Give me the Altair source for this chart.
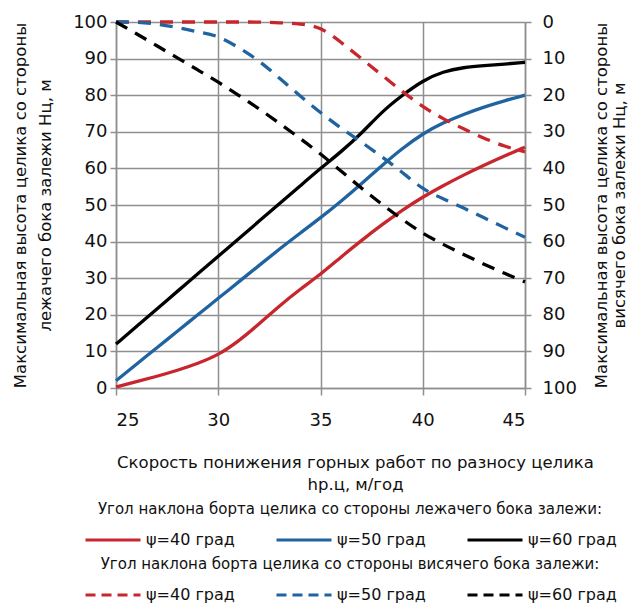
import altair as alt
import pandas as pd

# ---- data ----
x_vals = list(range(25, 46))

# Hц from the footwall (lying) side, left axis (m)
lying_40 = [0.3, 1.7, 3.2, 4.8, 6.7, 9.0, 12.8, 17.5, 22.5, 27.0, 31.0,
            35.8, 40.3, 44.6, 48.6, 52.2, 55.3, 58.2, 60.9, 63.4, 65.8]
lying_50 = [2.0, 6.5, 11.0, 15.5, 20.0, 24.5, 29.0, 33.5, 38.0, 42.3, 46.5,
            51.0, 55.8, 60.8, 65.5, 69.5, 72.5, 74.8, 76.8, 78.5, 80.0]
lying_60 = [12.0, 16.8, 21.6, 26.4, 31.2, 36.0, 40.8, 45.6, 50.4, 55.2, 60.0,
            64.5, 69.5, 75.5, 80.0, 84.0, 86.5, 87.6, 88.1, 88.5, 89.0]

# Hц from the hanging side, right (reversed) axis (m)
hanging_40 = [0.0, 0.0, 0.0, 0.0, 0.0, 0.0, 0.0, 0.0, 0.2, 0.5, 1.3,
              5.5, 10.0, 14.5, 19.0, 23.2, 26.5, 29.2, 31.8, 34.0, 35.5]
hanging_50 = [0.0, 0.0, 0.5, 1.5, 2.7, 3.7, 7.0, 10.5, 15.4, 20.2, 24.8,
              29.0, 32.8, 36.8, 41.0, 45.8, 48.3, 50.8, 53.5, 56.2, 58.8]
hanging_60 = [0.0, 3.2, 6.5, 9.8, 13.1, 16.4, 20.0, 23.7, 27.7, 31.8, 36.0,
              40.7, 45.4, 49.8, 54.0, 57.8, 60.8, 63.5, 66.2, 68.7, 71.0]

psi_labels = ["ψ=40 град", "ψ=50 град", "ψ=60 град"]
colors = ["#c8262d", "#1f63a0", "#000000"]

x_ticks = [25, 30, 35, 40, 45]
y_ticks = list(range(0, 101, 10))

x_title = ["Скорость понижения горных работ по разносу целика", "hр.ц, м/год"]
left_title = ["Максимальная высота целика со стороны", "лежачего бока залежи Hц, м"]
right_title = ["Максимальная высота целика со стороны", "висячего бока залежи Hц, м"]
legend1_title = "Угол наклона борта целика со стороны лежачего бока залежи:"
legend2_title = "Угол наклона борта целика со стороны висячего бока залежи:"

rows_s, rows_d = [], []
for lab, ys in zip(psi_labels, [lying_40, lying_50, lying_60]):
    for xv, yv in zip(x_vals, ys):
        rows_s.append({"x": xv, "H": yv, "psi": lab})
for lab, ys in zip(psi_labels, [hanging_40, hanging_50, hanging_60]):
    for xv, yv in zip(x_vals, ys):
        rows_d.append({"x": xv, "H": yv, "psi": lab})
solid_df = pd.DataFrame(rows_s)
dashed_df = pd.DataFrame(rows_d)

FONT = "DejaVu Sans"
GRID = "#8f8f8f"

x_enc = alt.X("x:Q", scale=alt.Scale(domain=[25, 45], nice=False, zero=False),
              axis=alt.Axis(values=x_ticks, title=x_title, grid=True,
                            titleX=239, titleY=74, titleBaseline="middle",
                            titleLineHeight=22, titleFontSize=16.5,
                            labelPadding=16, tickSize=7))

legend_common = dict(
    orient="none", direction="horizontal", columns=3, columnPadding=35,
    symbolType="stroke", symbolSize=3025, symbolStrokeWidth=3,
    labelFontSize=16, labelFont=FONT, labelColor="#111", labelOffset=4,
    labelLimit=300, titleFontSize=15, titleFont=FONT, titleFontWeight="normal",
    titleColor="#111", titleAnchor="middle", titleLimit=700, titlePadding=-6,
    padding=0, legendX=-32,
)

solid = alt.Chart(solid_df).mark_line(strokeWidth=3.3, interpolate="basis").encode(
    x=x_enc,
    y=alt.Y("H:Q", scale=alt.Scale(domain=[0, 100]),
            axis=alt.Axis(values=y_ticks, orient="left", title=left_title,
                          titleAngle=270, titleX=-96, titleY=183,
                          titleBaseline="middle", titleLineHeight=25,
                          titleFontSize=16.5, labelPadding=3, tickSize=6)),
    color=alt.Color("psi:N", scale=alt.Scale(domain=psi_labels, range=colors),
                    legend=alt.Legend(title=legend1_title, legendY=480, **legend_common)),
)

dashed = alt.Chart(dashed_df).mark_line(strokeWidth=3.3, strokeDash=[13, 9],
                                        interpolate="basis").encode(
    x=x_enc,
    y=alt.Y("H:Q", scale=alt.Scale(domain=[0, 100], reverse=True),
            axis=alt.Axis(values=y_ticks, orient="right", title=right_title,
                          grid=False, titleAngle=270, titleX=76, titleY=183,
                          titleBaseline="middle", titleLineHeight=18,
                          titleFontSize=16.5, labelPadding=11, tickSize=6)),
    color=alt.Color("psi:N", scale=alt.Scale(domain=psi_labels, range=colors),
                    legend=alt.Legend(title=legend2_title, legendY=535,
                                      symbolDash=[10, 6], **legend_common)),
)

chart = alt.layer(solid, dashed).resolve_scale(
    y="independent", color="independent"
).properties(
    width=409, height=366,
    autosize=alt.AutoSizeParams(type="none"),
    padding={"left": 108, "top": 14, "right": 103, "bottom": 218},
).configure_view(stroke=None).configure_axis(
    labelFont=FONT, titleFont=FONT, labelFontSize=18, labelColor="#111",
    titleColor="#111", titleFontWeight="normal",
    gridColor=GRID, gridWidth=1.5, gridOpacity=1,
    domainColor=GRID, domainWidth=1.5, tickColor=GRID, tickWidth=1.5,
)

chart.save("out.html", embed_options={"renderer": "svg", "actions": False})
